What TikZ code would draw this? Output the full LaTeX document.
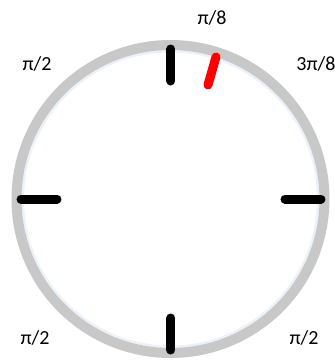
\documentclass[tikz,border=0pt]{standalone}
\usepackage{fontspec}
\setmainfont{Carlito}
\definecolor{ringgray}{RGB}{200,200,200}
\definecolor{glow}{RGB}{236,242,250}
\begin{document}
\begin{tikzpicture}[x=1pt,y=-1pt,
  tick/.style={line width=9pt,line cap=round,black},
  redtick/.style={line width=9pt,line cap=round,red},
  lbl/.style={font=\fontsize{20}{24}\selectfont,inner sep=0pt}]
\useasboundingbox (0,0) rectangle (335,360);
\coordinate (c) at (170.5,199);
\draw[glow,line width=3pt] (c) circle[radius=148];
\draw[ringgray,line width=10pt] (c) circle[radius=154];
\coordinate (t1) at (171,49); \coordinate (t2) at (171,81);
\coordinate (l1) at (21,199); \coordinate (l2) at (57,199);
\coordinate (r1) at (285,199); \coordinate (r2) at (321,199);
\coordinate (b1) at (171,318); \coordinate (b2) at (171,350);
\coordinate (q1) at (216,57); \coordinate (q2) at (208,85);
\draw[tick] (t1) -- (t2);
\draw[tick] (l1) -- (l2);
\draw[tick] (r1) -- (r2);
\draw[tick] (b1) -- (b2);
\draw[redtick] (q1) -- (q2);
\node[lbl] (n1) at (212,18) {π/8};
\node[lbl] (n2) at (37,64) {π/2};
\node[lbl] (n3) at (316,64) {3π/8};
\node[lbl] (n4) at (35,338) {π/2};
\node[lbl] (n5) at (304,338) {π/2};
\end{tikzpicture}
\end{document}
